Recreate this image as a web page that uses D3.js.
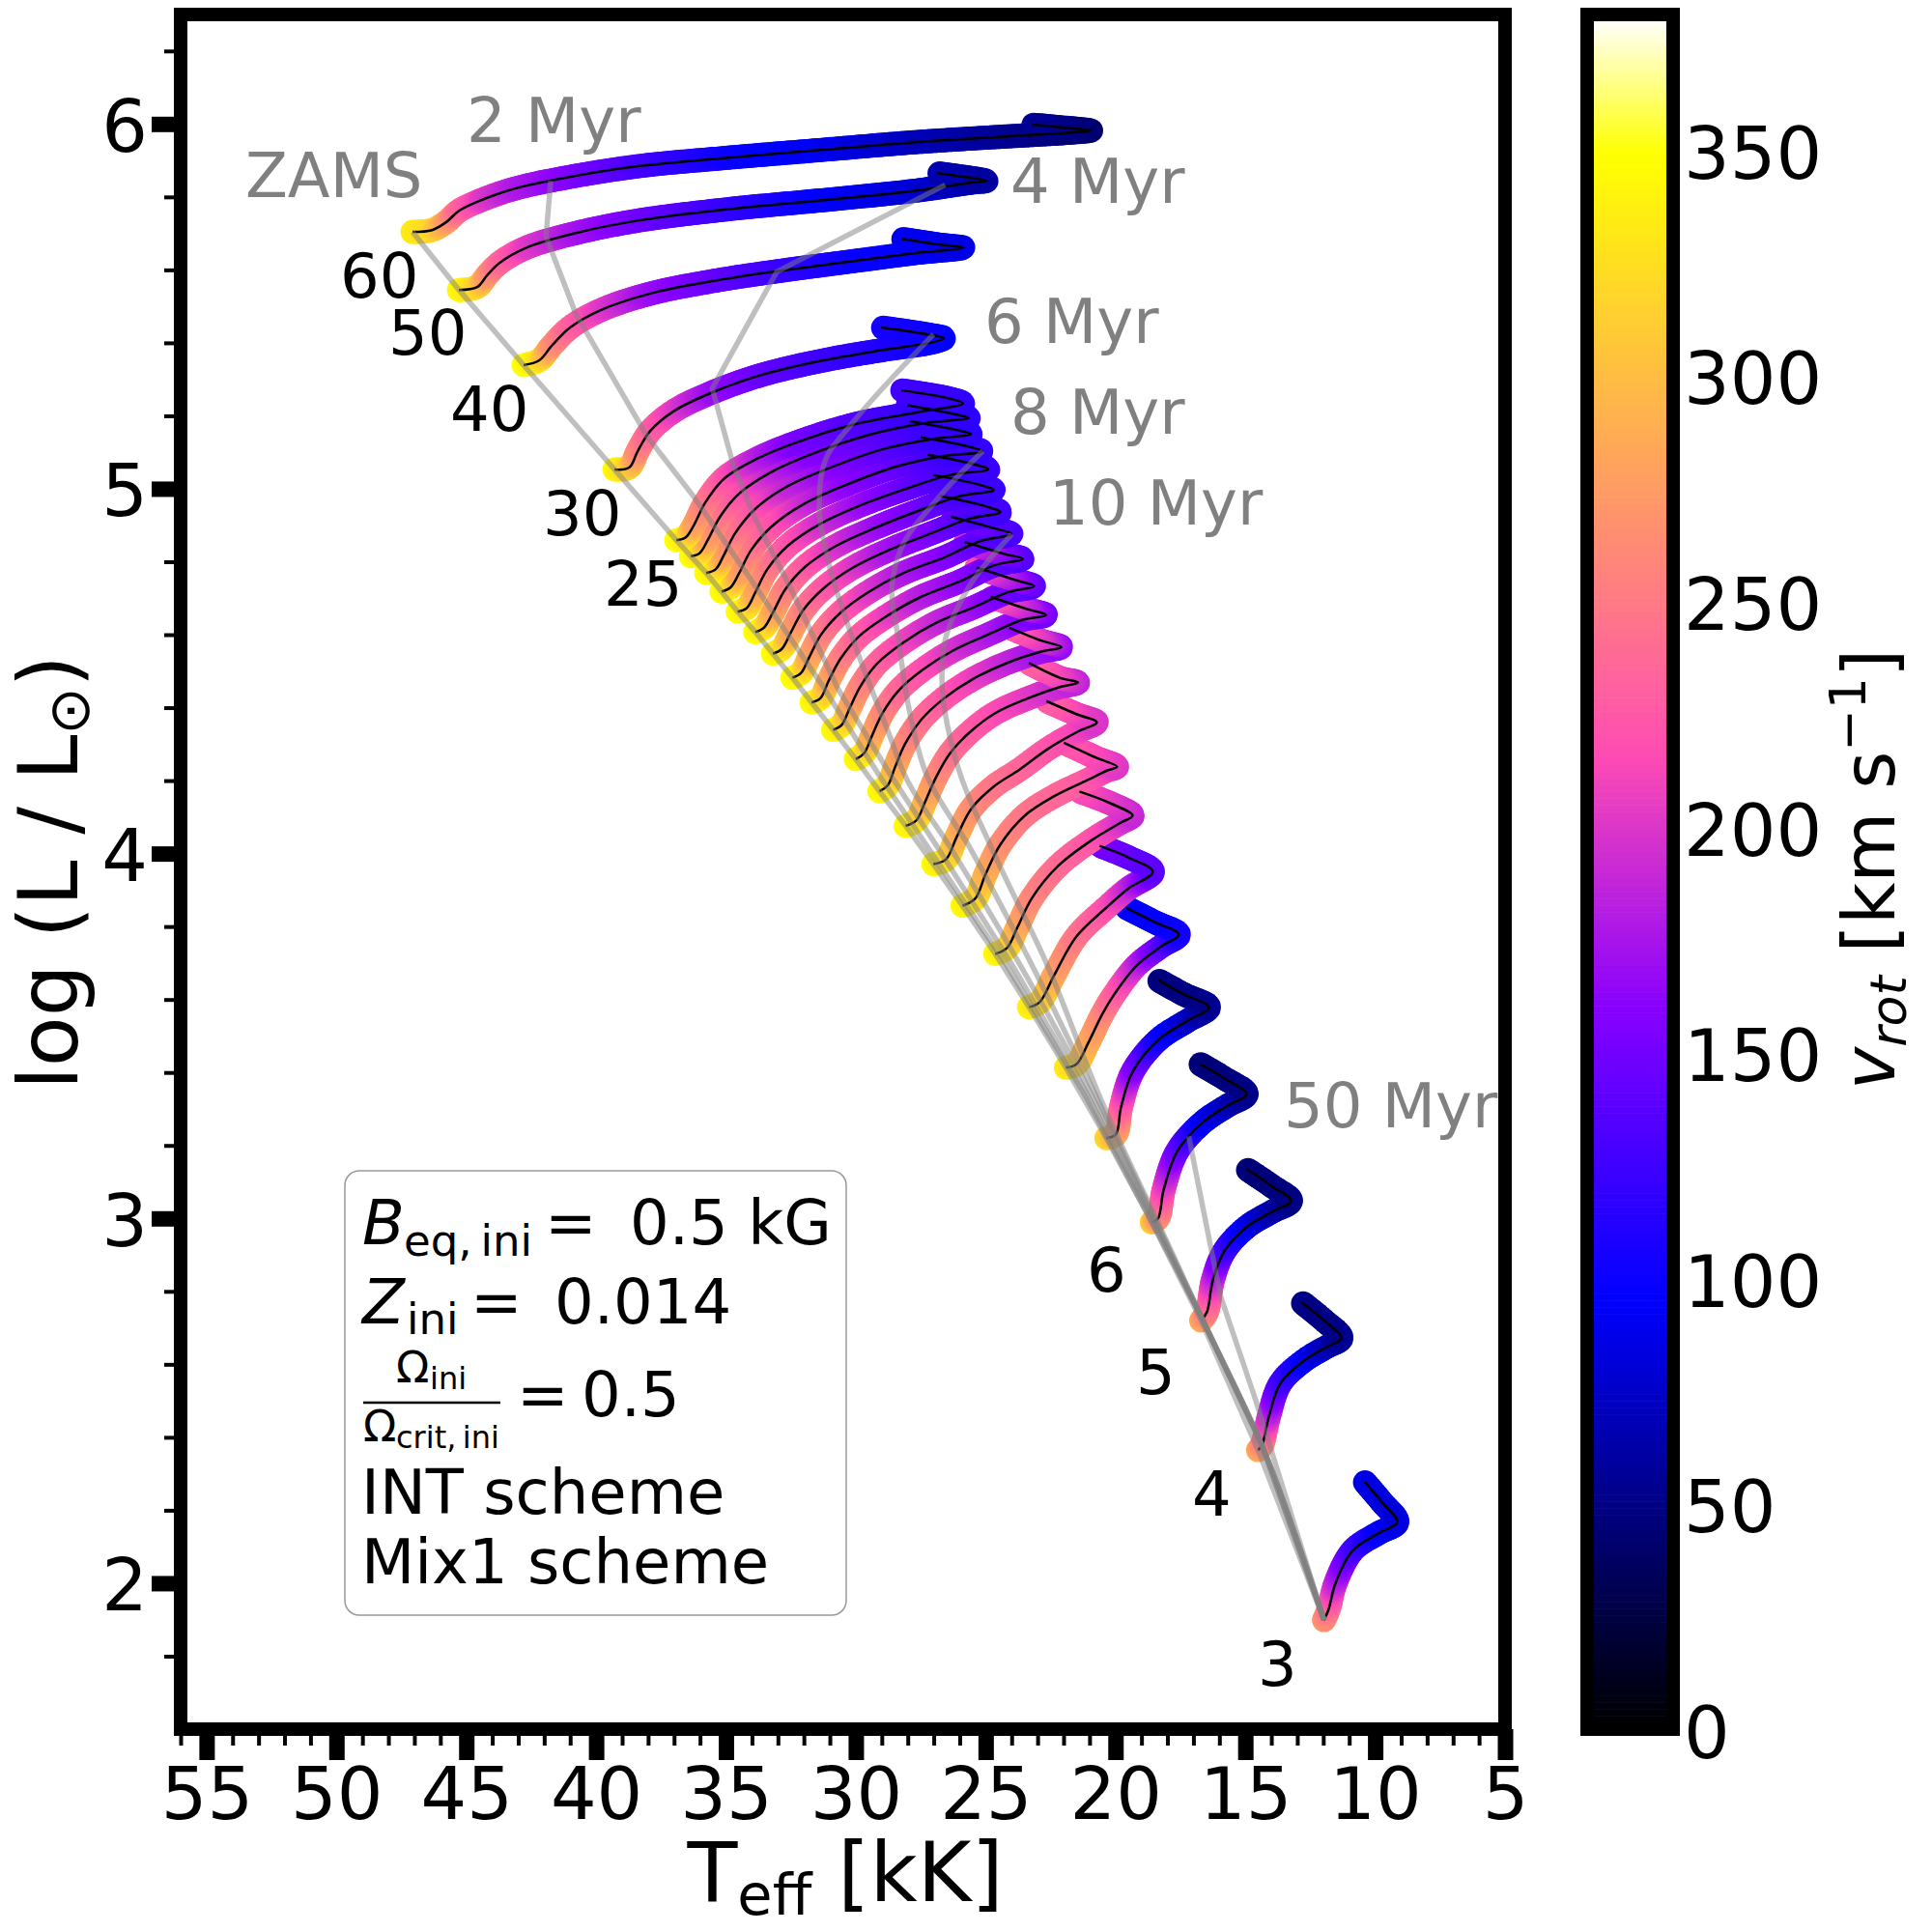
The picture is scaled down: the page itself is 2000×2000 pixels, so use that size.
<!DOCTYPE html>
<html>
<head>
<meta charset="utf-8">
<script src="https://cdn.jsdelivr.net/npm/d3@7"></script>
<style>
  body { margin: 0; background: #fff; }
  text { font-family: "DejaVu Sans", sans-serif; }
</style>
</head>
<body>
<div id="chart"></div>
<script>
// Tick labels
const teffMajor = [55, 50, 45, 40, 35, 30, 25, 20, 15, 10, 5];
const logLMajor = [2, 3, 4, 5, 6];
const cbarMajor = [0, 50, 100, 150, 200, 250, 300, 350];

// Tracks run from the 60 Msun one down to the 3 Msun one
const trackTeff = [
  [47.07,46.32,45.77,45.28,44.43,43.12,41.23,38.40,34.83,31.29,27.72,24.14,21.76,20.94,21.54,23.21],
  [45.28,44.58,44.20,43.72,42.68,40.78,38.40,34.83,31.29,27.72,25.56,24.96,25.56,26.86],
  [42.79,42.19,41.71,41.00,39.81,37.91,35.53,33.15,30.10,27.72,25.86,26.75,28.24],
  [39.29,38.73,38.40,37.91,36.98,35.53,33.63,31.25,28.91,27.01,26.60,27.23,29.02],
  [36.91,36.56,36.23,35.79,35.05,33.81,32.32,30.09,27.61,25.87,26.37,28.25],
  [36.35,36.02,35.69,35.23,34.49,33.25,31.70,29.47,27.23,25.65,26.24,28.01],
  [35.76,35.40,35.09,34.64,33.87,32.63,31.08,28.97,26.99,25.56,26.12,27.92],
  [35.17,34.83,34.49,34.03,33.25,32.01,30.46,28.47,26.61,25.15,25.74,27.51],
  [34.55,34.20,33.87,33.41,32.63,31.39,29.84,27.98,26.37,24.90,25.50,27.23],
  [33.87,33.54,33.19,32.72,31.95,30.77,29.28,27.54,25.99,24.69,25.25,27.01],
  [33.19,32.85,32.51,32.03,31.26,30.15,28.72,27.05,25.62,24.44,25.00,26.74],
  [32.44,32.11,31.79,31.33,30.58,29.53,28.16,26.55,25.19,24.01,24.69,26.33],
  [31.70,31.36,31.05,30.58,29.90,28.85,27.54,25.99,24.63,23.57,24.26,25.81],
  [30.87,30.55,30.24,29.81,29.16,28.16,26.92,25.43,24.13,23.14,23.82,25.35],
  [30.00,29.68,29.40,28.97,28.35,27.42,26.24,24.88,23.57,22.67,23.39,24.81],
  [29.09,28.77,28.50,28.10,27.48,26.61,25.50,24.19,22.89,22.08,22.83,24.09],
  [28.08,27.67,27.33,26.92,26.37,25.62,24.63,23.39,22.21,21.44,22.15,23.33],
  [27.01,26.53,26.12,25.56,24.70,23.70,22.58,21.46,20.72,21.46,22.66],
  [25.89,25.41,25.00,24.44,23.51,22.39,21.09,20.31,19.94,20.72,21.99],
  [24.63,24.18,23.77,23.21,22.21,20.91,19.79,19.34,20.20,21.39],
  [23.33,22.92,22.36,21.50,20.35,19.49,18.56,19.49,20.61],
  [21.91,21.50,21.05,20.50,20.05,19.19,18.23,17.56,18.49,19.60],
  [20.35,19.99,19.79,19.34,18.36,17.22,16.40,17.37,18.36],
  [18.60,18.36,18.15,17.63,16.66,15.66,14.95,15.81,16.74],
  [16.70,16.48,16.25,15.81,14.95,13.95,13.24,13.95,14.95],
  [14.51,14.36,14.10,13.65,12.72,11.86,11.30,11.97,12.83],
  [11.97,11.79,11.53,10.86,9.85,9.15,9.74,10.41]
];
const trackLogL = [
  [5.704,5.709,5.731,5.762,5.791,5.823,5.852,5.884,5.908,5.929,5.950,5.966,5.976,5.982,5.987,5.998],
  [5.545,5.553,5.585,5.619,5.661,5.701,5.735,5.767,5.791,5.817,5.839,5.844,5.852,5.865],
  [5.339,5.352,5.392,5.442,5.490,5.535,5.569,5.595,5.624,5.646,5.661,5.669,5.685],
  [5.053,5.058,5.103,5.159,5.214,5.264,5.312,5.352,5.381,5.402,5.413,5.423,5.442],
  [4.859,4.866,4.901,4.963,5.029,5.082,5.126,5.176,5.210,5.234,5.247,5.270],
  [4.815,4.823,4.861,4.923,4.987,5.046,5.095,5.148,5.181,5.194,5.205,5.229],
  [4.769,4.779,4.817,4.879,4.945,5.007,5.055,5.108,5.137,5.150,5.161,5.185],
  [4.718,4.729,4.769,4.832,4.896,4.958,5.008,5.060,5.090,5.102,5.117,5.141],
  [4.663,4.673,4.716,4.779,4.843,4.903,4.954,5.002,5.038,5.053,5.068,5.093],
  [4.607,4.619,4.661,4.724,4.786,4.843,4.892,4.941,4.980,4.996,5.011,5.038],
  [4.548,4.561,4.605,4.667,4.726,4.782,4.832,4.879,4.918,4.936,4.952,4.980],
  [4.482,4.495,4.539,4.601,4.661,4.716,4.769,4.813,4.857,4.876,4.892,4.923],
  [4.414,4.426,4.473,4.535,4.594,4.649,4.702,4.746,4.791,4.808,4.821,4.854],
  [4.339,4.352,4.398,4.460,4.522,4.579,4.632,4.676,4.717,4.733,4.749,4.784],
  [4.259,4.275,4.319,4.385,4.447,4.504,4.557,4.601,4.641,4.654,4.670,4.704],
  [4.171,4.187,4.235,4.301,4.367,4.425,4.478,4.522,4.553,4.566,4.583,4.619],
  [4.076,4.091,4.142,4.208,4.275,4.332,4.385,4.425,4.455,4.469,4.482,4.522],
  [3.971,3.984,4.045,4.122,4.183,4.230,4.288,4.334,4.360,4.381,4.418],
  [3.857,3.876,3.944,4.024,4.103,4.156,4.201,4.228,4.238,4.262,4.304],
  [3.725,3.741,3.799,3.879,3.966,4.037,4.085,4.104,4.138,4.170],
  [3.579,3.593,3.667,3.773,3.852,3.905,3.950,3.989,4.021],
  [3.413,3.423,3.481,3.561,3.614,3.693,3.746,3.778,3.812,3.852],
  [3.220,3.230,3.304,3.402,3.489,3.542,3.579,3.614,3.653],
  [2.989,3.000,3.077,3.183,3.262,3.310,3.341,3.384,3.423],
  [2.720,2.743,2.831,2.910,2.976,3.019,3.048,3.087,3.135],
  [2.365,2.378,2.455,2.548,2.611,2.648,2.672,2.720,2.770],
  [1.899,1.929,2.000,2.090,2.138,2.167,2.222,2.278]
];
const trackVrot = [
  [335,320,280,240,205,180,160,130,100,90,70,55,45,40,45,55],
  [345,320,275,240,205,175,150,120,95,80,65,60,60,65],
  [350,330,270,235,205,170,145,125,100,95,85,85,90],
  [345,315,265,235,205,170,145,125,110,100,95,100,105],
  [350,335,285,255,225,185,155,135,120,115,120,125],
  [350,335,285,255,225,190,160,140,122,115,120,125],
  [350,335,285,255,225,190,165,140,122,115,120,128],
  [350,335,285,255,228,195,165,145,125,118,122,130],
  [350,335,288,258,228,198,170,145,128,120,125,132],
  [350,335,288,258,230,200,172,150,130,122,125,135],
  [350,335,288,258,230,205,175,155,132,125,128,140],
  [350,338,290,260,232,205,180,160,140,128,135,160],
  [345,335,290,260,235,210,185,165,145,132,150,200],
  [345,335,290,262,238,215,192,172,150,138,165,215],
  [345,335,292,265,240,222,200,180,160,148,180,225],
  [345,335,295,268,245,228,210,190,172,165,195,228],
  [345,335,295,270,248,232,218,205,192,185,205,230],
  [345,330,295,270,250,238,225,212,198,205,230],
  [345,330,295,268,250,238,228,212,200,210,225],
  [345,330,290,262,242,225,200,188,200,215],
  [340,325,285,250,222,190,140,140,150],
  [335,320,290,262,235,190,140,105,98,95],
  [320,290,235,165,105,75,55,50,47],
  [310,270,215,150,95,70,52,48,45],
  [285,255,195,130,90,65,50,47,45],
  [285,265,195,130,95,70,55,50,50],
  [270,245,190,130,95,85,80,85]
];

// Isochrones: 2, 4, 6, 8, 10 and 50 Myr
const isoTeff = [
  [41.75,41.93,40.78,38.03,36.28,34.04,31.36,29.17,27.16,24.18,21.20,17.93,16.63,14.36,11.97],
  [26.56,33.04,35.53,34.71,33.82,32.55,30.69,28.72,26.79,23.96,21.09,17.89,16.63,14.36,11.97],
  [27.01,30.32,31.07,31.40,31.07,30.10,28.68,28.16,26.30,23.66,20.94,17.85,16.63,14.36,11.97],
  [25.11,26.97,28.24,28.61,28.35,27.98,27.31,25.56,23.21,20.79,17.82,16.63,14.36,11.97],
  [23.99,25.63,26.56,26.67,26.38,26.00,24.74,22.62,20.65,17.78,16.63,14.36,11.97],
  [17.18,15.96,14.58,11.97]
];
const isoLogL = [
  [5.844,5.691,5.479,5.143,4.982,4.751,4.468,4.222,4.010,3.693,3.341,2.899,2.720,2.378,1.899],
  [5.833,5.595,5.275,5.063,4.910,4.733,4.452,4.222,4.010,3.693,3.341,2.899,2.720,2.378,1.899],
  [5.423,5.164,5.095,4.937,4.804,4.585,4.320,4.222,4.010,3.693,3.341,2.899,2.720,2.378,1.899],
  [5.103,4.963,4.839,4.733,4.585,4.407,4.222,4.010,3.693,3.341,2.899,2.720,2.378,1.899],
  [4.876,4.733,4.585,4.452,4.320,4.222,4.010,3.693,3.341,2.899,2.720,2.378,1.899],
  [3.225,2.788,2.497,1.899]
];

const width = 2000, height = 2000;
const axL = 187, axR = 1558, axT = 15, axB = 1790;
const vMax = 380;

const svg = d3.select("#chart").append("svg")
  .attr("width", width)
  .attr("height", height)
  .style("display", "block");

const x = d3.scaleLinear().domain([56, 5]).range([axL, axR]);
const y = d3.scaleLinear().domain([1.6, 6.3]).range([axB, axT]);
const cbarY = d3.scaleLinear().domain([0, vMax]).range([axB, axT]);

// matplotlib gnuplot2
function gnuplot2(t) {
  const c = v => Math.max(0, Math.min(1, v));
  const r = c(t / 0.32 - 0.78125);
  const g = c(2 * t - 0.84);
  const b = c(t < 0.25 ? 4 * t : t < 0.92 ? -2 * t + 1.84 : t / 0.08 - 11.5);
  return d3.rgb(r * 255, g * 255, b * 255).formatHex();
}

const line = d3.line().x(d => x(d[0])).y(d => y(d[1])).curve(d3.curveCatmullRom.alpha(0.5));

const bands = svg.append("g");
const thinLines = svg.append("g");
const grey = svg.append("g");

// Coloured tracks, low masses first so the heavier ones lie on top
d3.range(trackTeff.length - 1, -1, -1).forEach(i => {
  const pts = trackTeff[i].map((t, k) => [t, trackLogL[i][k]]);
  const path = thinLines.append("path")
    .attr("d", line(pts))
    .attr("fill", "none")
    .attr("stroke", "#000")
    .attr("stroke-width", 2.5);

  // length along the polyline is good enough to place the vrot values
  let acc = 0;
  const chord = pts.map((p, k) => {
    if (k > 0) acc += Math.hypot(x(p[0]) - x(pts[k - 1][0]), y(p[1]) - y(pts[k - 1][1]));
    return acc;
  });
  const total = path.node().getTotalLength();
  const vAt = d3.scaleLinear().domain(chord.map(c => c / acc * total)).range(trackVrot[i]);

  d3.range(0, total, 2.5).forEach(s => {
    const p = path.node().getPointAtLength(s);
    bands.append("circle")
      .attr("cx", p.x)
      .attr("cy", p.y)
      .attr("r", 12.5)
      .attr("fill", gnuplot2(vAt(s) / vMax));
  });
});

// ZAMS runs through the first point of every track
const zams = trackTeff.map((t, i) => [t[0], trackLogL[i][0]]);
const greyStraight = d3.line().x(d => x(d[0])).y(d => y(d[1]));
const greyRound = d3.line().x(d => x(d[0])).y(d => y(d[1])).curve(d3.curveCatmullRom.alpha(1));
function drawGrey(pts, gen) {
  grey.append("path")
    .attr("d", gen(pts))
    .attr("fill", "none")
    .attr("stroke", "#808080")
    .attr("stroke-opacity", 0.5)
    .attr("stroke-width", 5.5);
}
drawGrey(zams, greyStraight);
isoTeff.forEach((ts, i) => {
  const pts = ts.map((t, k) => [t, isoLogL[i][k]]);
  // 2, 4 and 50 Myr show corners at the tracks, 6 to 10 Myr bend smoothly
  drawGrey(pts, i >= 2 && i <= 4 ? greyRound : greyStraight);
});

// Annotations
const greyLabels = [
  ["ZAMS", 254, 204], ["2 Myr", 483, 147], ["4 Myr", 1046, 210], ["6 Myr", 1019, 355],
  ["8 Myr", 1046, 449], ["10 Myr", 1086, 543], ["50 Myr", 1329, 1167]
];
greyLabels.forEach(d => {
  svg.append("text").attr("x", d[1]).attr("y", d[2])
    .attr("font-size", 64).attr("fill", "#808080").text(d[0]);
});
const massLabels = [
  ["60", 352, 308], ["50", 402, 367], ["40", 466, 446], ["30", 562, 554], ["25", 625, 627],
  ["6", 1125, 1337], ["5", 1176, 1443], ["4", 1234, 1569], ["3", 1302, 1745]
];
massLabels.forEach(d => {
  svg.append("text").attr("x", d[1]).attr("y", d[2])
    .attr("font-size", 64).attr("fill", "#000").text(d[0]);
});

// Parameter box
const box = svg.append("g");
box.append("rect")
  .attr("x", 357).attr("y", 1212).attr("width", 519).attr("height", 460)
  .attr("rx", 15).attr("fill", "#fff").attr("fill-opacity", 0.8)
  .attr("stroke", "#999").attr("stroke-width", 1.5);
function boxText(str, px, py, size, italic) {
  box.append("text").attr("x", px).attr("y", py).attr("font-size", size)
    .attr("font-style", italic ? "italic" : "normal").text(str);
}
boxText("B", 375, 1288, 64, true);
boxText("eq,\u2009ini", 418, 1300, 45);
boxText("=", 564, 1288, 64);
boxText("0.5 kG", 652, 1288, 64);
boxText("Z", 375, 1370, 64, true);
boxText("ini", 421, 1381, 45);
boxText("=", 487, 1370, 64);
boxText("0.014", 574, 1370, 64);
boxText("\u03A9", 410, 1431, 45);
boxText("ini", 445, 1438, 32);
box.append("line").attr("x1", 376).attr("x2", 518).attr("y1", 1452).attr("y2", 1452)
  .attr("stroke", "#000").attr("stroke-width", 2.5);
boxText("\u03A9", 376, 1492, 45);
boxText("crit,\u2009ini", 410, 1499, 32);
boxText("=", 535, 1466, 64);
boxText("0.5", 602, 1466, 64);
boxText("INT scheme", 374, 1567, 64);
boxText("Mix1 scheme", 374, 1639, 64);

// Axes
function styleTicks(g, w, fontSize) {
  g.select(".domain").remove();
  g.selectAll(".tick line").attr("stroke", "#000").attr("stroke-width", w);
  g.selectAll(".tick text").attr("fill", "#000").attr("font-family", "DejaVu Sans").attr("font-size", fontSize);
}

const xMinor = svg.append("g").attr("transform", `translate(0,${axB})`)
  .call(d3.axisBottom(x).tickValues(d3.range(6, 57).filter(v => v % 5 !== 0)).tickSize(17).tickFormat(""));
styleTicks(xMinor, 4, 0);
const xMajor = svg.append("g").attr("transform", `translate(0,${axB})`)
  .call(d3.axisBottom(x).tickValues(teffMajor).tickSize(32).tickFormat(d3.format("d")));
styleTicks(xMajor, 16, 75);
xMajor.selectAll(".tick text").attr("y", 93).attr("dy", 0);

const yMinor = svg.append("g").attr("transform", `translate(${axL},0)`)
  .call(d3.axisLeft(y).tickValues([1.8, 2.2, 2.4, 2.6, 2.8, 3.2, 3.4, 3.6, 3.8, 4.2, 4.4, 4.6, 4.8, 5.2, 5.4, 5.6, 5.8, 6.2]).tickSize(17).tickFormat(""));
styleTicks(yMinor, 4, 0);
const yMajor = svg.append("g").attr("transform", `translate(${axL},0)`)
  .call(d3.axisLeft(y).tickValues(logLMajor).tickSize(30).tickFormat(d3.format("d")));
styleTicks(yMajor, 16, 75);
yMajor.selectAll(".tick text").attr("x", -34).attr("dy", "0.37em");

svg.append("rect")
  .attr("x", axL).attr("y", axT).attr("width", axR - axL).attr("height", axB - axT)
  .attr("fill", "none").attr("stroke", "#000").attr("stroke-width", 14);

const xTitle = svg.append("text").attr("x", 875).attr("y", 1968).attr("text-anchor", "middle").attr("font-size", 85);
xTitle.append("tspan").text("T");
xTitle.append("tspan").attr("font-size", 59).attr("dy", 14).text("eff");
xTitle.append("tspan").attr("dy", -14).text(" [kK]");

const yTitle = svg.append("text")
  .attr("transform", "translate(80,903) rotate(-90)")
  .attr("text-anchor", "middle").attr("font-size", 85);
yTitle.append("tspan").text("log (L / L");
yTitle.append("tspan").attr("font-size", 59).attr("dy", 12).text("\u2299");
yTitle.append("tspan").attr("dy", -12).text(")");

// Colour bar
const cbarL = 1643, cbarR = 1732;
const levels = d3.range(256);
svg.append("g").selectAll("rect")
  .data(levels)
  .join("rect")
  .attr("x", cbarL)
  .attr("width", cbarR - cbarL)
  .attr("y", d => cbarY((d + 1) / 256 * vMax))
  .attr("height", d => cbarY(d / 256 * vMax) - cbarY((d + 1) / 256 * vMax) + 0.6)
  .attr("fill", d => gnuplot2(d / 255));
svg.append("rect")
  .attr("x", cbarL).attr("y", axT).attr("width", cbarR - cbarL).attr("height", axB - axT)
  .attr("fill", "none").attr("stroke", "#000").attr("stroke-width", 14);

const cbarAxis = svg.append("g").attr("transform", `translate(${cbarR},0)`)
  .call(d3.axisRight(cbarY).tickValues(cbarMajor).tickSize(0).tickFormat(d3.format("d")));
styleTicks(cbarAxis, 0, 75);
cbarAxis.selectAll(".tick text").attr("x", 11).attr("dy", "0.39em");

const cbarTitle = svg.append("text")
  .attr("transform", "translate(1961,900) rotate(-90)")
  .attr("text-anchor", "middle").attr("font-size", 75);
cbarTitle.append("tspan").attr("font-style", "italic").text("v");
cbarTitle.append("tspan").attr("font-style", "italic").attr("font-size", 52).attr("dy", 12).text("rot");
cbarTitle.append("tspan").attr("dy", -12).text(" [km s");
cbarTitle.append("tspan").attr("font-size", 52).attr("dy", -30).text("\u22121");
cbarTitle.append("tspan").attr("dy", 30).text("]");
</script>
</body>
</html>
